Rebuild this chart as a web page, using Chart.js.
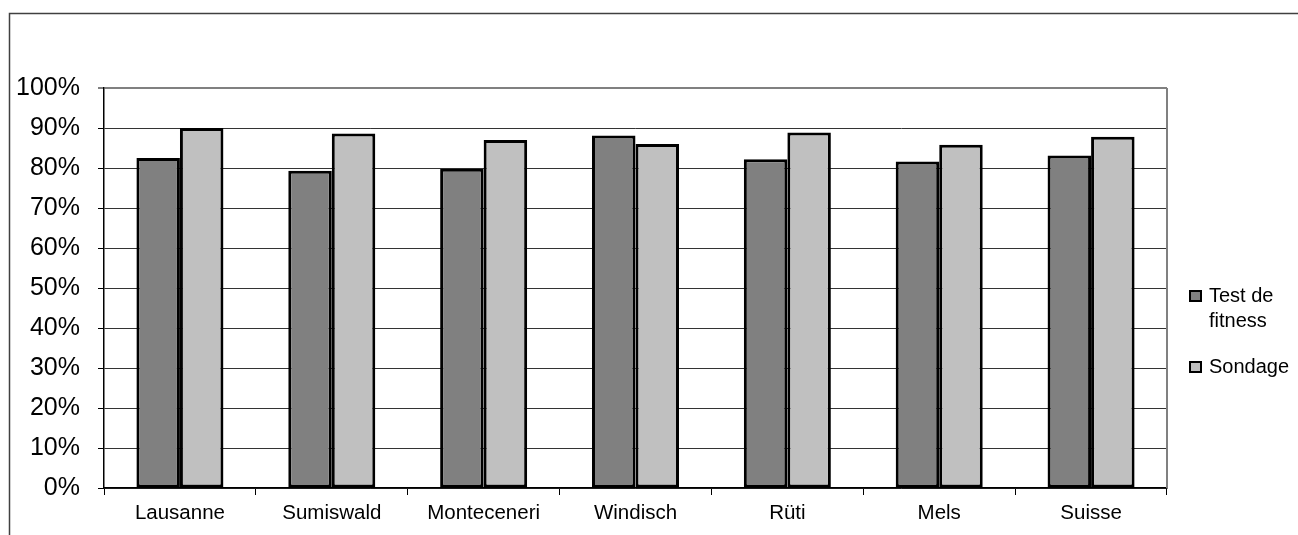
<!DOCTYPE html>
<html lang="fr">
<head>
  <meta charset="UTF-8">
  <script src="https://cdn.jsdelivr.net/npm/chart.js"></script>
  <title>Test de fitness et sondage</title>
  <style>
    html, body { margin: 0; padding: 0; background: #fff; }
  </style>
</head>
<body>
  <canvas id="chart" width="1298" height="535"></canvas>

<script>
  // chart data
  const categories = ['Lausanne', 'Sumiswald', 'Monteceneri', 'Windisch', 'Rüti', 'Mels', 'Suisse']
  const fitnessTest = [82.5, 79.3, 79.8, 88.1, 82.2, 81.6, 83.1]
  const survey = [90.0, 88.6, 87.0, 86.0, 88.9, 85.8, 87.8]
  const seriesNames = ['Test de fitness', 'Sondage']
  const yTicks = [0, 10, 20, 30, 40, 50, 60, 70, 80, 90, 100]

  const fontFamily = "'Liberation Sans', Arial, sans-serif"

  // outer frame + plot box (top / right in grey)
  const framePlugin = {
    id: 'frame',
    beforeDraw(chart) {
      const c = chart.ctx
      c.save()
      c.fillStyle = '#fff'
      c.fillRect(0, 0, chart.width, chart.height)
      c.strokeStyle = '#404040'
      c.lineWidth = 1.5
      c.beginPath()
      c.moveTo(9.5, chart.height)
      c.lineTo(9.5, 13.5)
      c.lineTo(chart.width, 13.5)
      c.stroke()
      c.restore()
    },
    beforeDatasetsDraw(chart) {
      const { top, bottom, right } = chart.chartArea
      const c = chart.ctx
      c.save()
      c.strokeStyle = '#808080'
      c.lineWidth = 2
      c.beginPath()
      c.moveTo(right, bottom)
      c.lineTo(right, top)
      c.stroke()
      c.restore()
    }
  }

  // legend on the right, with wrapped labels
  const sideLegend = {
    id: 'sideLegend',
    afterDraw(chart) {
      const c = chart.ctx
      const x = 1190
      const maxWidth = 85
      const lineHeight = 25
      let y = 296
      c.save()
      c.font = '20px ' + fontFamily
      c.textBaseline = 'middle'
      c.textAlign = 'left'
      chart.data.datasets.forEach(ds => {
        // wrap words
        const lines = []
        let line = ''
        ds.label.split(' ').forEach(word => {
          const test = line ? line + ' ' + word : word
          if (line && c.measureText(test).width > maxWidth) {
            lines.push(line)
            line = word
          } else {
            line = test
          }
        })
        lines.push(line)

        c.fillStyle = ds.backgroundColor
        c.fillRect(x, y - 5, 11, 10)
        c.strokeStyle = '#000'
        c.lineWidth = 2
        c.strokeRect(x, y - 5, 11, 10)

        c.fillStyle = '#000'
        lines.forEach((l, i) => c.fillText(l, x + 19, y + i * lineHeight))
        y += lines.length * lineHeight + 21
      })
      c.restore()
    }
  }

  new Chart(document.getElementById('chart'), {
    type: 'bar',
    data: {
      labels: categories,
      datasets: [{
        label: seriesNames[0],
        data: fitnessTest,
        backgroundColor: '#808080',
        borderColor: '#000',
        borderWidth: 3,
        borderSkipped: false,
      }, {
        label: seriesNames[1],
        data: survey,
        backgroundColor: '#c0c0c0',
        borderColor: '#000',
        borderWidth: 3,
        borderSkipped: false,
      }]
    },
    options: {
      responsive: false,
      animation: false,
      layout: {
        padding: { top: 88, right: 131, left: 0, bottom: 0 }
      },
      datasets: {
        bar: {
          categoryPercentage: 0.573,
          barPercentage: 1
        }
      },
      plugins: {
        legend: false,
        tooltip: false
      },
      scales: {
        x: {
          afterFit(scale) { scale.height = 47 },
          grid: {
            drawOnChartArea: false,
            offset: true,
            tickLength: 7,
            tickColor: '#000',
            tickWidth: 1
          },
          border: { color: '#000', width: 1.5 },
          ticks: {
            color: '#000',
            padding: 6,
            font: { family: fontFamily, size: 20.5 }
          }
        },
        y: {
          min: 0,
          max: 100,
          afterFit(scale) { scale.width = 104 },
          afterBuildTicks(scale) {
            scale.ticks = yTicks.map(v => ({ value: v }))
          },
          grid: {
            color: ctx => ctx.tick && ctx.tick.value === 100 ? '#808080' : '#333',
            lineWidth: ctx => ctx.tick && ctx.tick.value === 100 ? 2 : 1,
            tickLength: 6,
            tickColor: '#000',
            tickWidth: 1
          },
          border: { color: '#000', width: 1.5 },
          ticks: {
            color: '#000',
            padding: 18,
            font: { family: fontFamily, size: 25 },
            callback: value => value + '%'
          }
        }
      }
    },
    plugins: [framePlugin, sideLegend]
  });
</script>
</body>
</html>
